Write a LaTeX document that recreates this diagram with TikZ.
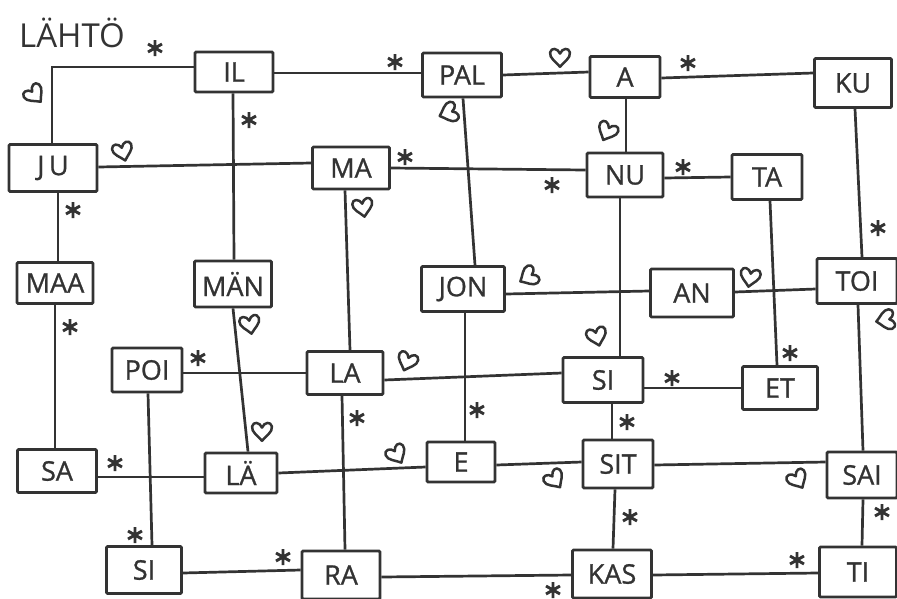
\documentclass[tikz,border=0pt]{standalone}
\usepackage{fontspec}
\setmainfont{Open Sans}
\newfontfamily\handfont{Open Sans}[FakeBold=1]
\usetikzlibrary{calc}
\definecolor{ink}{HTML}{333333}
\tikzset{
  box/.style={draw=ink, line width=2.8pt, inner sep=0pt, text=ink,
    font=\handfont\fontsize{27}{27}\selectfont, rounded corners=1.2pt},
  link/.style={draw=ink, line width=2.7pt},
  ast/.pic={\draw[ink, line width=2.9pt] (0,-8)--(0,8) (-7,-4)--(7,4) (-7,4)--(7,-4);},
  heart/.pic={\draw[ink, line width=2.5pt, line join=round, scale=1.1]
    (0,8) .. controls (-3,4) and (-10,0) .. (-9,-5)
    .. controls (-8,-10) and (-2,-9) .. (0,-4)
    .. controls (2,-9) and (8,-10) .. (9,-5)
    .. controls (10,0) and (3,4) .. (0,8) -- cycle;}
}
\begin{document}
\begin{tikzpicture}[x=1pt,y=-1pt]
\useasboundingbox (0,0) rectangle (897,598);
% start label
\node[text=ink, font=\fontsize{33}{33}\selectfont] (start) at (72,33) {LÄHTÖ};
% nodes
\node[box, minimum width=78pt, minimum height=40pt] (IL) at (234,72) {IL};
\node[box, minimum width=79pt, minimum height=44pt] (PAL) at (462,75) {PAL};
\node[box, minimum width=70pt, minimum height=41pt] (A) at (625,77) {A};
\node[box, minimum width=77pt, minimum height=49pt] (KU) at (853,83) {KU};
\node[box, minimum width=88pt, minimum height=47pt] (JU) at (53,168) {J\,U};
\node[box, minimum width=77pt, minimum height=42pt] (MA) at (351,168) {MA};
\node[box, minimum width=76pt, minimum height=44pt] (NU) at (625,175) {NU};
\node[box, minimum width=70pt, minimum height=45pt] (TA) at (767,177) {TA};
\node[box, minimum width=76pt, minimum height=41pt] (MAA) at (55,283) {MAA};
\node[box, minimum width=77pt, minimum height=46pt] (MAN) at (233,284) {MÄN};
\node[box, minimum width=83pt, minimum height=45pt] (JON) at (463,289) {JON};
\node[box, minimum width=83pt, minimum height=48pt] (AN) at (692,293) {AN};
\node[box, minimum width=80pt, minimum height=45pt] (TOI) at (857,281) {TOI};
\node[box, minimum width=70pt, minimum height=44pt] (POI) at (147,370) {POI};
\node[box, minimum width=76pt, minimum height=43pt] (LA) at (345,373) {LA};
\node[box, minimum width=80pt, minimum height=45pt] (SIm) at (603,380) {SI};
\node[box, minimum width=75pt, minimum height=43pt] (ET) at (780,388) {ET};
\node[box, minimum width=79pt, minimum height=43pt] (SA) at (57,471) {SA};
\node[box, minimum width=72pt, minimum height=40pt] (LAE) at (241,473) {LÄ};
\node[box, minimum width=68pt, minimum height=40pt] (E) at (461,462) {E};
\node[box, minimum width=70pt, minimum height=48pt] (SIT) at (618,464) {SIT};
\node[box, minimum width=70pt, minimum height=46pt] (SAI) at (862,475) {SAI};
\node[box, minimum width=75pt, minimum height=47pt] (SIb) at (144,570) {SI};
\node[box, minimum width=78pt, minimum height=48pt] (RA) at (341,575) {RA};
\node[box, minimum width=79pt, minimum height=48pt] (KAS) at (612,574) {KAS};
\node[box, minimum width=77pt, minimum height=50pt] (TI) at (858,572) {TI};
% connectors
\coordinate (corner) at (52,67);
\draw[link] ($(IL.west)+(0,-5)$) -- (corner) -- ($(JU.north)+(-1,0)$);
\draw[link] ($(IL.east)+(0,1)$) -- ($(PAL.west)+(0,-2)$);
\draw[link] ($(PAL.east)+(0,0)$) -- ($(A.west)+(0,-5)$);
\draw[link] ($(A.east)+(0,1)$) -- ($(KU.west)+(0,-10)$);
\draw[link] ($(IL.south)+(-1,0)$) -- ($(MAN.north)+(1,0)$);
\draw[link] ($(PAL.south)+(1,0)$) -- ($(JON.north)+(12,0)$);
\draw[link] ($(A.south)+(1,0)$) -- ($(NU.north)+(1,0)$);
\draw[link] ($(KU.south)+(2,0)$) -- ($(TOI.north)+(5,0)$);
\draw[link] ($(JU.east)+(0,-1)$) -- ($(MA.west)+(0,-5)$);
\draw[link] ($(MA.east)+(0,0)$) -- ($(NU.west)+(0,-5)$);
\draw[link] ($(NU.east)+(0,3)$) -- ($(TA.west)+(0,0)$);
\draw[link] ($(JU.south)+(5,0)$) -- ($(MAA.north)+(3,0)$);
\draw[link] ($(MA.south)+(-6,0)$) -- ($(LA.north)+(5,0)$);
\draw[link] ($(NU.south)+(-5,0)$) -- ($(SIm.north)+(17,0)$);
\draw[link] ($(TA.south)+(3,0)$) -- ($(ET.north)+(-3,0)$);
\draw[link] ($(MAA.south)+(0,0)$) -- ($(SA.north)+(-2,0)$);
\draw[link] ($(MAN.south)+(0,0)$) -- ($(LAE.north)+(7,0)$);
\draw[link] ($(JON.east)+(0,5)$) -- ($(AN.west)+(0,-2)$);
\draw[link] ($(AN.east)+(0,-1)$) -- ($(TOI.west)+(0,8)$);
\draw[link] ($(JON.south)+(2,0)$) -- ($(E.north)+(4,0)$);
\draw[link] ($(TOI.south)+(1,0)$) -- ($(SAI.north)+(1,0)$);
\draw[link] ($(POI.east)+(0,3)$) -- ($(LA.west)+(0,0)$);
\draw[link] ($(POI.south)+(1,0)$) -- ($(SIb.north)+(8,0)$);
\draw[link] ($(LA.east)+(0,7)$) -- ($(SIm.west)+(0,-7)$);
\draw[link] ($(LA.south)+(-3,0)$) -- ($(RA.north)+(4,0)$);
\draw[link] ($(SIm.east)+(0,8)$) -- ($(ET.west)+(0,0)$);
\draw[link] ($(SIm.south)+(9,0)$) -- ($(SIT.north)+(-6,0)$);
\draw[link] ($(SA.east)+(0,6)$) -- ($(LAE.west)+(0,4)$);
\draw[link] ($(LAE.east)+(0,0)$) -- ($(E.west)+(0,5)$);
\draw[link] ($(E.east)+(0,3)$) -- ($(SIT.west)+(0,-2)$);
\draw[link] ($(SIT.east)+(0,1)$) -- ($(SAI.west)+(0,-13)$);
\draw[link] ($(SIT.south)+(-3,0)$) -- ($(KAS.north)+(1,0)$);
\draw[link] ($(SAI.south)+(1,0)$) -- ($(TI.north)+(4,0)$);
\draw[link] ($(SIb.east)+(0,3)$) -- ($(RA.west)+(0,-5)$);
\draw[link] ($(RA.east)+(0,2)$) -- ($(KAS.west)+(0,1)$);
\draw[link] ($(KAS.east)+(0,1)$) -- ($(TI.west)+(0,1)$);
% asterisks
\foreach \p in {(155,48),(395,62),(249,120),(688,63),(405,157),(552,185),(683,167),
  (73,210),(878,228),(70,327),(198,358),(790,353),(672,378),(477,410),(357,418),
  (627,422),(115,463),(135,535),(630,517),(882,512),(283,557),(553,590),(797,560)}
  \pic at \p {ast};
% hearts
\pic[rotate=40] at (35,95) {heart};
\pic[rotate=15] at (123,152) {heart};
\pic at (560,58) {heart};
\pic[rotate=-70] at (448,113) {heart};
\pic[rotate=-25] at (607,132) {heart};
\pic[rotate=10] at (363,208) {heart};
\pic[rotate=10] at (250,325) {heart};
\pic[rotate=-60] at (528,277) {heart};
\pic[rotate=-10] at (750,278) {heart};
\pic[rotate=-80] at (885,320) {heart};
\pic[rotate=-20] at (407,362) {heart};
\pic[rotate=15] at (597,337) {heart};
\pic at (262,432) {heart};
\pic[rotate=30] at (397,455) {heart};
\pic[rotate=35] at (555,480) {heart};
\pic[rotate=30] at (798,480) {heart};
\end{tikzpicture}
\end{document}
